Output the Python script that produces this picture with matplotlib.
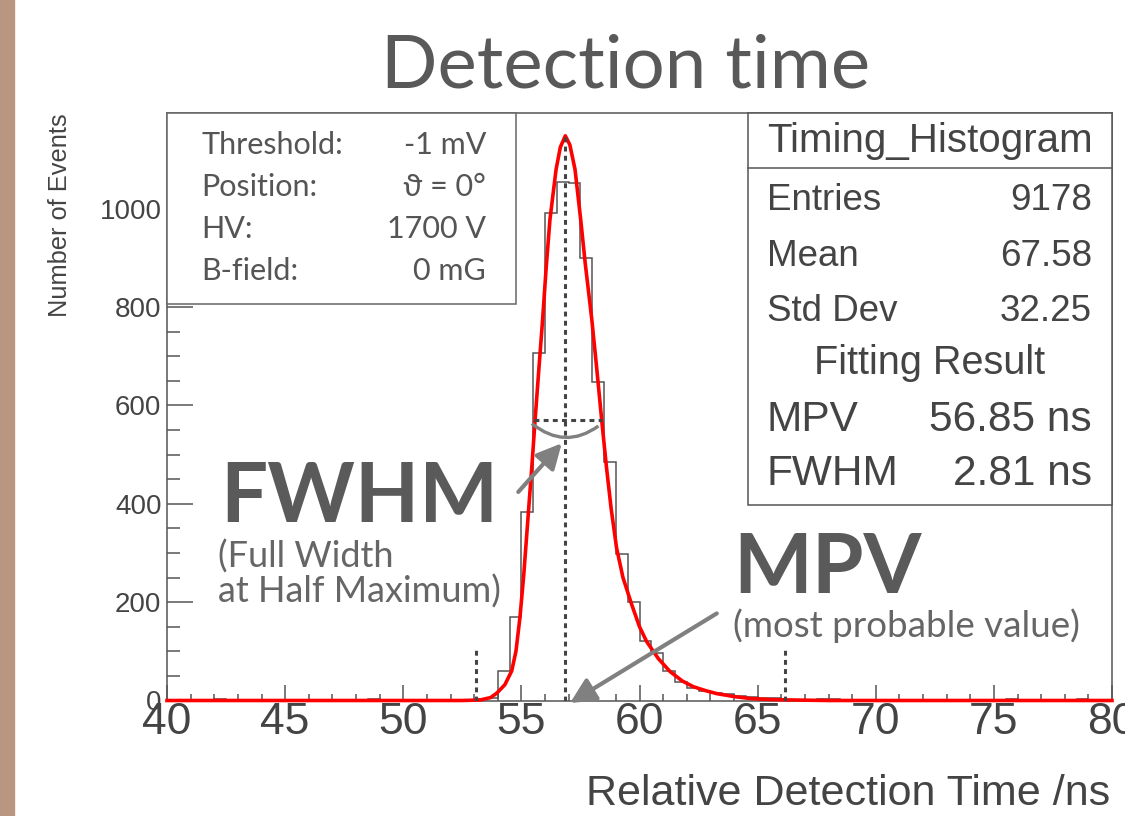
import matplotlib
matplotlib.use('Agg')
import matplotlib.pyplot as plt
import numpy as np
from matplotlib.patches import Rectangle, PathPatch
from matplotlib.path import Path
from matplotlib.ticker import MultipleLocator

# Гистограмма: бины по 0.5 нс от 40 до 80 нс
bin_lo, bin_hi, bin_w = 40.0, 80.0, 0.5
counts = [0, 0, 0, 0, 4, 0, 0, 0, 0, 0,
          0, 0, 0, 0, 0, 0, 0, 4, 0, 0,
          0, 0, 0, 0, 0, 0, 3, 6, 59, 169,
          384, 706, 991, 1054, 1052, 899, 647, 485, 297, 201,
          120, 96, 59, 38, 25, 20, 15, 14, 9, 8,
          5, 5, 2, 0, 0, 3, 3, 0, 0, 0,
          0, 2, 0, 0, 0, 0, 0, 0, 0, 0,
          0, 3, 0, 0, 0, 0, 0, 3, 0, 0]

# Кривая фита
fit_t = [40.0, 52.5, 53.25, 53.7, 53.96, 54.3, 54.59, 54.77, 54.94, 55.1,
         55.3, 55.45, 55.58, 55.75, 55.9, 56.05, 56.21, 56.47, 56.65, 56.86,
         57.05, 57.27, 57.51, 57.7, 57.98, 58.2, 58.4, 58.6, 58.8, 59.03,
         59.3, 59.67, 60.0, 60.3, 60.8, 61.29, 61.8, 62.28, 62.8, 63.27,
         64.0, 64.7, 65.5, 66.5, 68.0, 80.0]
fit_v = [0, 0, 1, 6, 15, 32, 60, 100, 169, 255,
         384, 480, 570, 680, 775, 880, 978, 1080, 1125, 1148,
         1130, 1080, 978, 890, 775, 670, 570, 475, 390, 310,
         250, 195, 150, 120, 85, 59, 40, 28, 20, 14,
         8, 4, 2, 1, 0, 0]

# Пунктирные метки: положение и высота
guide_t = [53.10, 56.85, 66.17]
guide_h = [108, 1148, 106]
fwhm_lo, fwhm_hi, half_max = 55.55, 58.42, 570

stats_title = 'Timing_Histogram'
stats_rows = [('Entries', '9178'), ('Mean', '67.58'), ('Std Dev', '32.25')]
fit_rows = [('MPV', '56.85 ns'), ('FWHM', '2.81 ns')]
info_rows = [('Threshold:', '-1 mV'), ('Position:', 'ϑ = 0°'),
             ('HV:', '1700 V'), ('B-field:', '0 mG')]

W, H = 1125, 816
fx = lambda x: x / W          # пиксели -> доли фигуры
fy = lambda y: 1 - y / H

root_font = 'Liberation Sans'
lato = ['Lato', 'DejaVu Sans']
grey_txt = '#555555'
root_txt = '#444444'

fig = plt.figure(figsize=(W / 100, H / 100), dpi=100)
fig.patches.append(Rectangle((0, 0), fx(14), 1, transform=fig.transFigure,
                             color='#b9967f', zorder=0))

ax = fig.add_axes([fx(167), fy(700.5), fx(1112 - 167), (700.5 - 112.7) / H])
ax.set_xlim(bin_lo, bin_hi)
ax.set_ylim(0, 1195)

edges = np.linspace(bin_lo, bin_hi, len(counts) + 1)
ax.stairs(counts, edges, color='#555555', lw=1.1, zorder=3)
ax.plot(fit_t, fit_v, color='#ff0000', lw=2.6, zorder=4, clip_on=False,
        solid_joinstyle='round')

# Пунктир MPV, границ и FWHM
for t, h in zip(guide_t, guide_h):
    ax.plot([t, t], [0, h], color='#444444', lw=2.2, dashes=(1.6, 1.4), zorder=5)
ax.plot([fwhm_lo, fwhm_hi], [half_max, half_max], color='#444444', lw=2.2,
        dashes=(1.6, 1.4), zorder=5)

# Дуга под FWHM
arc = Path([(55.44, 563), (56.85, 509), (58.26, 558)],
           [Path.MOVETO, Path.CURVE3, Path.CURVE3])
ax.add_patch(PathPatch(arc, fc='none', ec='#808080', lw=2.4, zorder=6))

arrow = dict(arrowstyle='-|>', color='#808080', lw=3, mutation_scale=38,
             shrinkA=0, shrinkB=0)
ax.annotate('', xy=(56.71, 523), xytext=(54.87, 424), arrowprops=arrow,
            annotation_clip=False, zorder=6)
ax.annotate('', xy=(57.06, -5), xytext=(63.27, 177), arrowprops=arrow,
            annotation_clip=False, zorder=6)

# Оси в стиле ROOT
for sp in ax.spines.values():
    sp.set_color('#555555')
    sp.set_linewidth(1.1)
ax.xaxis.set_major_locator(MultipleLocator(5))
ax.xaxis.set_minor_locator(MultipleLocator(1))
ax.yaxis.set_major_locator(MultipleLocator(200))
ax.yaxis.set_minor_locator(MultipleLocator(50))
ax.tick_params(axis='both', which='both', direction='in', color='#555555',
               width=1.1, top=False, right=False, labelcolor=root_txt)
ax.tick_params(axis='x', which='major', length=11.5, labelsize=32, pad=1)
ax.tick_params(axis='x', which='minor', length=5)
ax.tick_params(axis='y', which='major', length=19, labelsize=20, pad=4)
ax.tick_params(axis='y', which='minor', length=9.5)
for lab in ax.get_xticklabels() + ax.get_yticklabels():
    lab.set_family(root_font)

fig.text(fx(1110), fy(805), 'Relative Detection Time /ns', ha='right',
         va='baseline', fontsize=31, family=root_font, color=root_txt)
fig.text(fx(60), fy(113), 'Number of Events', rotation=90, ha='center',
         va='top', fontsize=18.3, family=root_font, color=root_txt)

fig.text(fx(626), fy(87), 'Detection time', ha='center', va='baseline',
         fontsize=53.5, family=lato, color='#595959')

# Блок с параметрами измерения
fig.patches.append(Rectangle((fx(167), fy(304)), fx(516 - 167), (304 - 113) / H,
                             transform=fig.transFigure, fc='white',
                             ec='#666666', lw=1.1, zorder=5))
for (k, v), yb in zip(info_rows, [154, 196, 238, 280]):
    fig.text(fx(201), fy(yb), k, ha='left', va='baseline', fontsize=22,
             family=lato, color=grey_txt, zorder=6)
    fig.text(fx(486), fy(yb), v, ha='right', va='baseline', fontsize=22,
             family=lato, color=grey_txt, zorder=6)

# Статистика
fig.patches.append(Rectangle((fx(748), fy(505)), fx(1112 - 748), (505 - 113) / H,
                             transform=fig.transFigure, fc='white',
                             ec='#555555', lw=1.1, zorder=5))
fig.lines.append(plt.Line2D([fx(748), fx(1112)], [fy(168), fy(168)],
                            transform=fig.transFigure, color='#555555',
                            lw=1.1, zorder=6))
fig.text(fx(930), fy(151.5), stats_title, ha='center', va='baseline',
         fontsize=29, family=root_font, color=root_txt, zorder=6)
for (k, v), yb in zip(stats_rows, [209.7, 266, 321]):
    fig.text(fx(767), fy(yb), k, ha='left', va='baseline', fontsize=26.5,
             family=root_font, color=root_txt, zorder=6)
    fig.text(fx(1092), fy(yb), v, ha='right', va='baseline', fontsize=26.5,
             family=root_font, color=root_txt, zorder=6)
fig.text(fx(930), fy(374), 'Fitting Result', ha='center', va='baseline',
         fontsize=28.5, family=root_font, color=root_txt, zorder=6)
for (k, v), yb in zip(fit_rows, [430.6, 485]):
    fig.text(fx(767), fy(yb), k, ha='left', va='baseline', fontsize=30.5,
             family=root_font, color=root_txt, zorder=6)
    fig.text(fx(1092), fy(yb), v, ha='right', va='baseline', fontsize=30.5,
             family=root_font, color=root_txt, zorder=6)

# Подписи FWHM и MPV
fig.text(fx(220), fy(522), 'FWHM', ha='left', va='baseline', fontsize=60,
         family=lato, weight='bold', color='#5a5a5a', zorder=6)
fig.text(fx(218), fy(568), '(Full Width', ha='left', va='baseline',
         fontsize=26, family=lato, color='#666666', zorder=6)
fig.text(fx(218), fy(603), 'at Half Maximum)', ha='left', va='baseline',
         fontsize=26, family=lato, color='#666666', zorder=6)
fig.text(fx(733), fy(593), 'MPV', ha='left', va='baseline', fontsize=60,
         family=lato, weight='bold', color='#5a5a5a', zorder=6)
fig.text(fx(733), fy(637), '(most probable value)', ha='left', va='baseline',
         fontsize=26.5, family=lato, color='#666666', zorder=6)

fig.savefig('out.png', dpi=100)
